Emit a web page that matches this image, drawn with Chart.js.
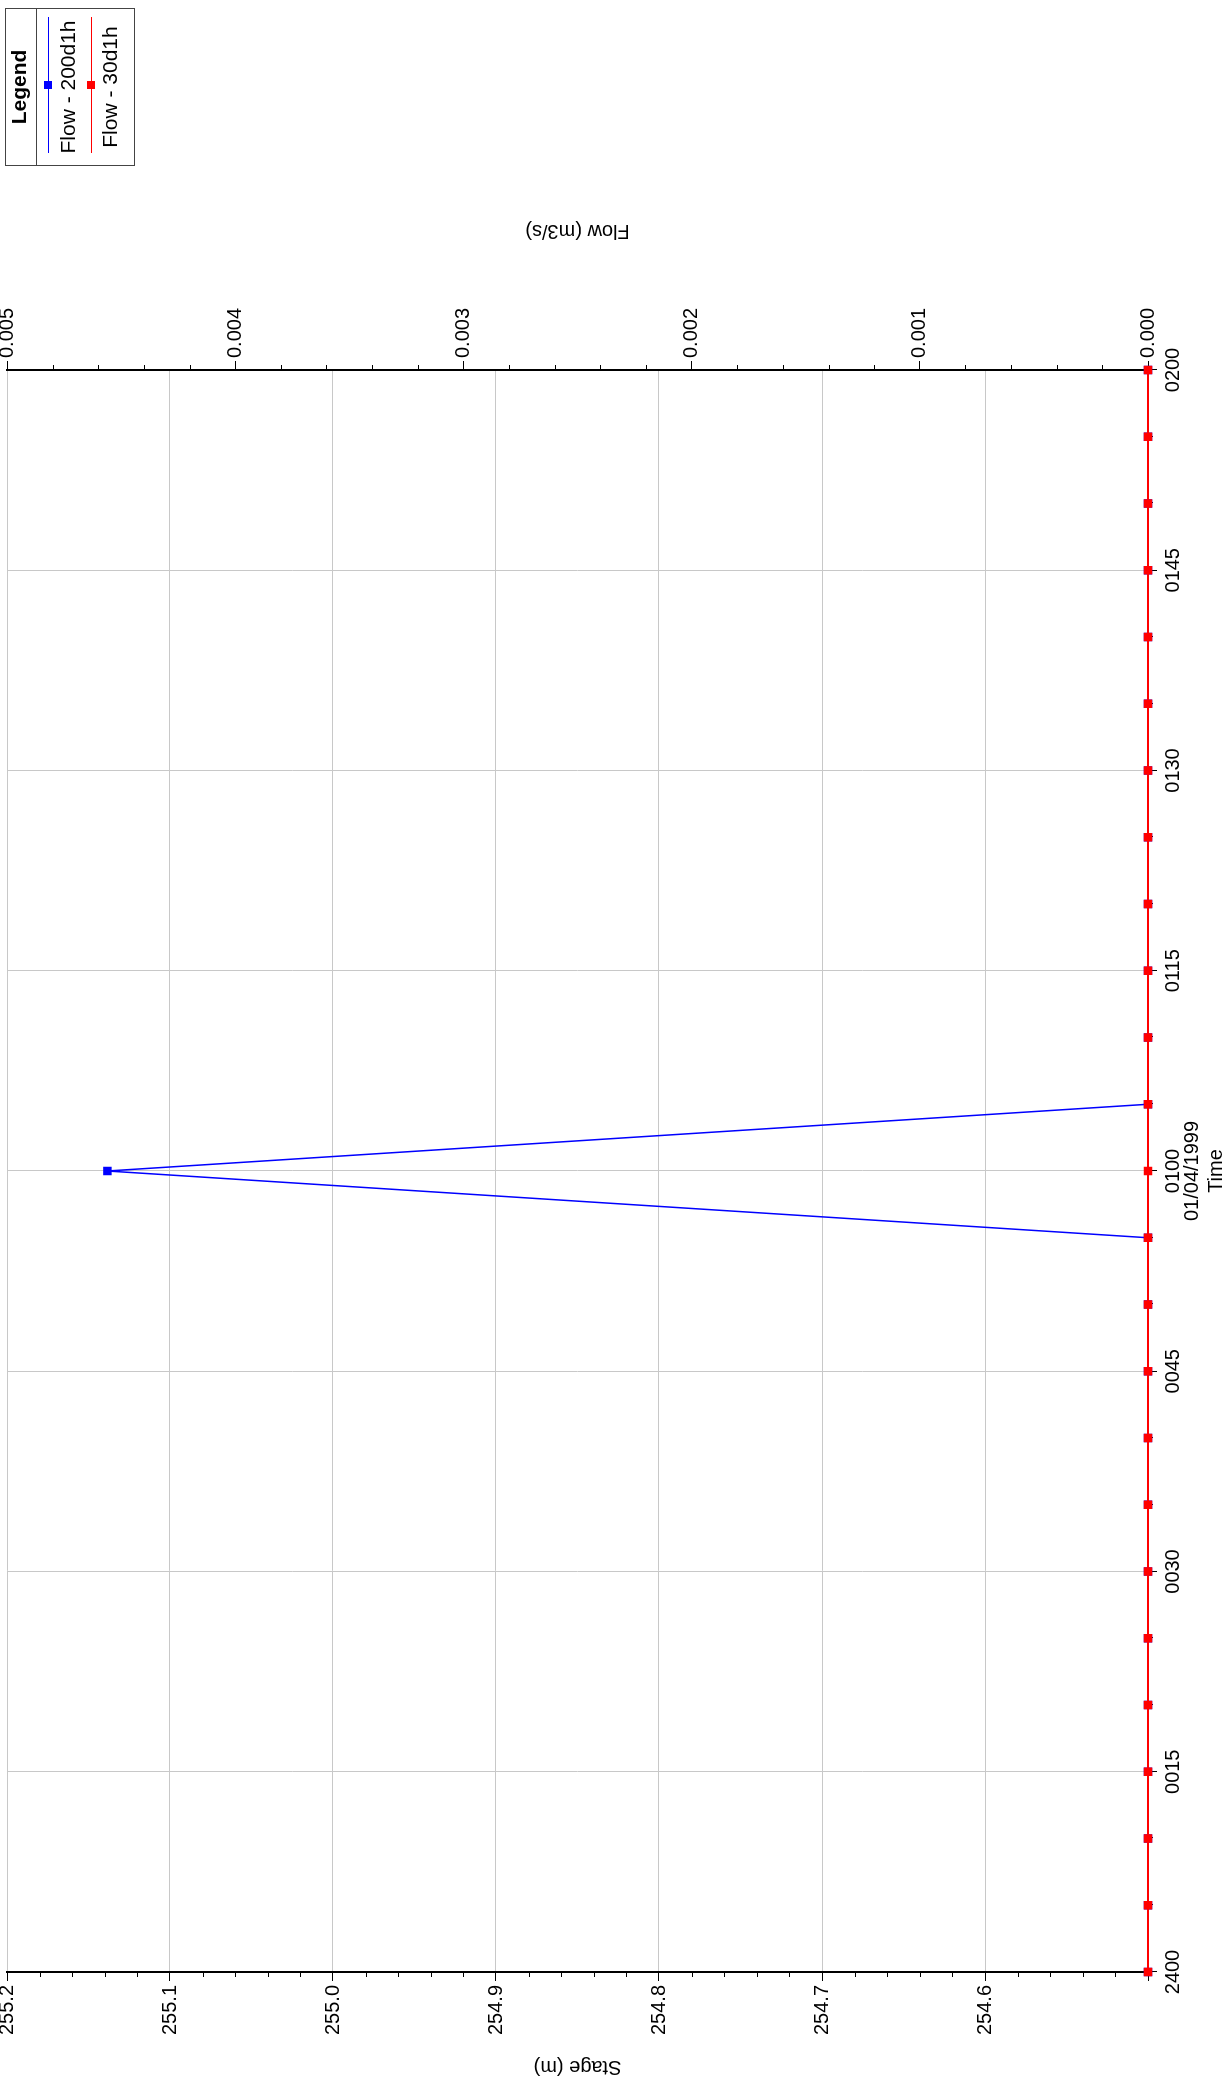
<!DOCTYPE html>
<html lang="en">
<head>
<meta charset="UTF-8">
<title>Flow - 200d1h / 30d1h</title>
<script src="https://cdn.jsdelivr.net/npm/chart.js"></script>
<style>
body {
    margin: 0;
    width: 1223px;
    height: 2089px;
    overflow: hidden;
    background: #fff;
    font-family: 'Liberation Sans', Arial, sans-serif;
}
/* chart is laid out landscape, then turned a quarter left */
#wrap {
    position: absolute;
    left: 0;
    top: 0;
    width: 2089px;
    height: 1223px;
    transform-origin: 0 0;
    transform: translate(0px, 2089px) rotate(-90deg);
}
#chart { position: absolute; left: 0; top: 0; }
.legend {
    position: absolute;
    left: 1923px;
    top: 5px;
    width: 158px;
    height: 130px;
    border: 1px solid #444;
    box-sizing: border-box;
    font-size: 21px;
    color: #000;
}
.legend .head {
    height: 30px;
    border-bottom: 1px solid #444;
    text-align: center;
    font-weight: bold;
    line-height: 26px;
}
.legend .sample {
    position: absolute;
    left: 12px;
    width: 136px;
    height: 1px;
}
.legend .sample i {
    position: absolute;
    left: 64px;
    top: -4px;
    width: 8px;
    height: 8px;
}
.legend .label {
    position: absolute;
    left: 0;
    width: 100%;
    text-align: center;
    line-height: 21px;
}
</style>
</head>
<body>
<div id="wrap">
    <canvas id="chart" width="2089" height="1223"></canvas>
    <div class="legend">
        <div class="head">Legend</div>
        <div class="sample" style="top:42px;background:#0000ff"><i style="background:#0000ff"></i></div>
        <div class="label" style="top:51px">Flow - 200d1h</div>
        <div class="sample" style="top:85px;background:#ff0000"><i style="background:#ff0000"></i></div>
        <div class="label" style="top:93px">Flow - 30d1h</div>
    </div>
</div>
<script>
// minutes after 2400 on 31/03/1999
const minutes = [0, 5, 10, 15, 20, 25, 30, 35, 40, 45, 50, 55, 60, 65, 70, 75, 80, 85, 90, 95, 100, 105, 110, 115, 120];
const flow200d1h = [0, 0, 0, 0, 0, 0, 0, 0, 0, 0, 0, 0, 0.00456, 0, 0, 0, 0, 0, 0, 0, 0, 0, 0, 0, 0];
const flow30d1h = [0, 0, 0, 0, 0, 0, 0, 0, 0, 0, 0, 0, 0, 0, 0, 0, 0, 0, 0, 0, 0, 0, 0, 0, 0];
const timeTickLabels = ['2400', '0015', '0030', '0045', ['0100', '01/04/1999'], '0115', '0130', '0145', '0200'];

Chart.defaults.font.family = "'Liberation Sans', Arial, sans-serif";
Chart.defaults.font.size = 20;
Chart.defaults.color = '#000';

const GRID = '#c8c8c8';

// vertical axes: no extra room for half-labels at the ends
function fitVertical(width) {
    return s => {
        s.width = width;
        s.paddingTop = 0;
        s.paddingBottom = 0;
    };
}

// minor ticks and the right-hand axis title
const extras = {
    id: 'extras',
    beforeDatasetsDraw(chart) {
        const ctx = chart.ctx;
        const a = chart.chartArea;
        const sx = chart.scales.x, sy = chart.scales.y, sf = chart.scales.y1;
        ctx.save();
        ctx.strokeStyle = '#000';
        ctx.lineWidth = 1;
        ctx.beginPath();
        for (let m = 0; m <= 120; m += 5) {
            if (m % 15 === 0) continue;
            const px = Math.round(sx.getPixelForValue(m)) + 0.5;
            ctx.moveTo(px, a.bottom);
            ctx.lineTo(px, a.bottom + 5);
        }
        for (let i = 0; i <= 35; i++) {
            if (i % 5 === 0) continue;
            const py = Math.round(sy.getPixelForValue(254.5 + i * 0.02)) + 0.5;
            ctx.moveTo(a.left, py);
            ctx.lineTo(a.left - 5, py);
        }
        for (let i = 0; i <= 25; i++) {
            if (i % 5 === 0) continue;
            const py = Math.round(sf.getPixelForValue(i * 0.0002)) + 0.5;
            ctx.moveTo(a.right, py);
            ctx.lineTo(a.right + 5, py);
        }
        ctx.stroke();
        ctx.restore();
    },
    afterDraw(chart) {
        const ctx = chart.ctx;
        const a = chart.chartArea;
        ctx.save();
        ctx.translate(1858, (a.top + a.bottom) / 2);
        ctx.rotate(-Math.PI / 2);
        ctx.font = "20px 'Liberation Sans', Arial, sans-serif";
        ctx.fillStyle = '#000';
        ctx.textAlign = 'center';
        ctx.textBaseline = 'middle';
        ctx.fillText('Flow (m3/s)', 0, 0);
        ctx.restore();
    }
};

new Chart(document.getElementById('chart'), {
    type: 'line',
    data: {
        datasets: [{
            label: 'Flow - 200d1h',
            data: minutes.map((m, i) => ({ x: m, y: flow200d1h[i] })),
            yAxisID: 'y1',
            borderColor: '#0000ff',
            backgroundColor: '#0000ff',
            borderWidth: 1.5,
            pointStyle: 'rect',
            pointRadius: 6,
            pointBorderWidth: 0,
            tension: 0,
            clip: false,
            order: 1
        }, {
            label: 'Flow - 30d1h',
            data: minutes.map((m, i) => ({ x: m, y: flow30d1h[i] })),
            yAxisID: 'y1',
            borderColor: '#ff0000',
            backgroundColor: '#ff0000',
            borderWidth: 2,
            pointStyle: 'rect',
            pointRadius: 6,
            pointBorderWidth: 0,
            tension: 0,
            clip: false,
            order: 0
        }]
    },
    options: {
        responsive: false,
        animation: false,
        devicePixelRatio: 1,
        layout: { padding: { top: 7, left: 0, right: 0, bottom: 0 } },
        plugins: {
            legend: { display: false },
            tooltip: { enabled: false }
        },
        scales: {
            x: {
                type: 'linear',
                min: 0,
                max: 120,
                afterFit: s => { s.height = 75; s.paddingLeft = 0; s.paddingRight = 0; },
                ticks: {
                    stepSize: 15,
                    autoSkip: false,
                    maxRotation: 0,
                    padding: 7,
                    font: { size: 20, lineHeight: 0.95 },
                    callback: (v, i) => timeTickLabels[i]
                },
                grid: { color: GRID, tickColor: '#000', tickLength: 9 },
                border: { color: '#000', width: 1 },
                title: { display: true, text: 'Time', padding: { top: 0, bottom: -3 }, font: { size: 20, lineHeight: 1 } }
            },
            y: {
                position: 'left',
                min: 254.5,
                max: 255.2,
                afterFit: fitVertical(117),
                ticks: {
                    stepSize: 0.1,
                    padding: 4,
                    callback: v => v < 254.55 ? '' : v.toFixed(1)
                },
                grid: { color: GRID, tickColor: '#000', tickLength: 9 },
                border: { color: '#000', width: 2 },
                title: { display: true, text: 'Stage (m)', padding: { top: 10, bottom: 0 } }
            },
            y1: {
                position: 'right',
                min: 0,
                max: 0.005,
                afterFit: fitVertical(370),
                ticks: {
                    stepSize: 0.001,
                    padding: 3,
                    callback: v => v.toFixed(3)
                },
                grid: { drawOnChartArea: false, tickColor: '#000', tickLength: 9 },
                border: { color: '#000', width: 2 }
            }
        }
    },
    plugins: [extras]
});
</script>
</body>
</html>
